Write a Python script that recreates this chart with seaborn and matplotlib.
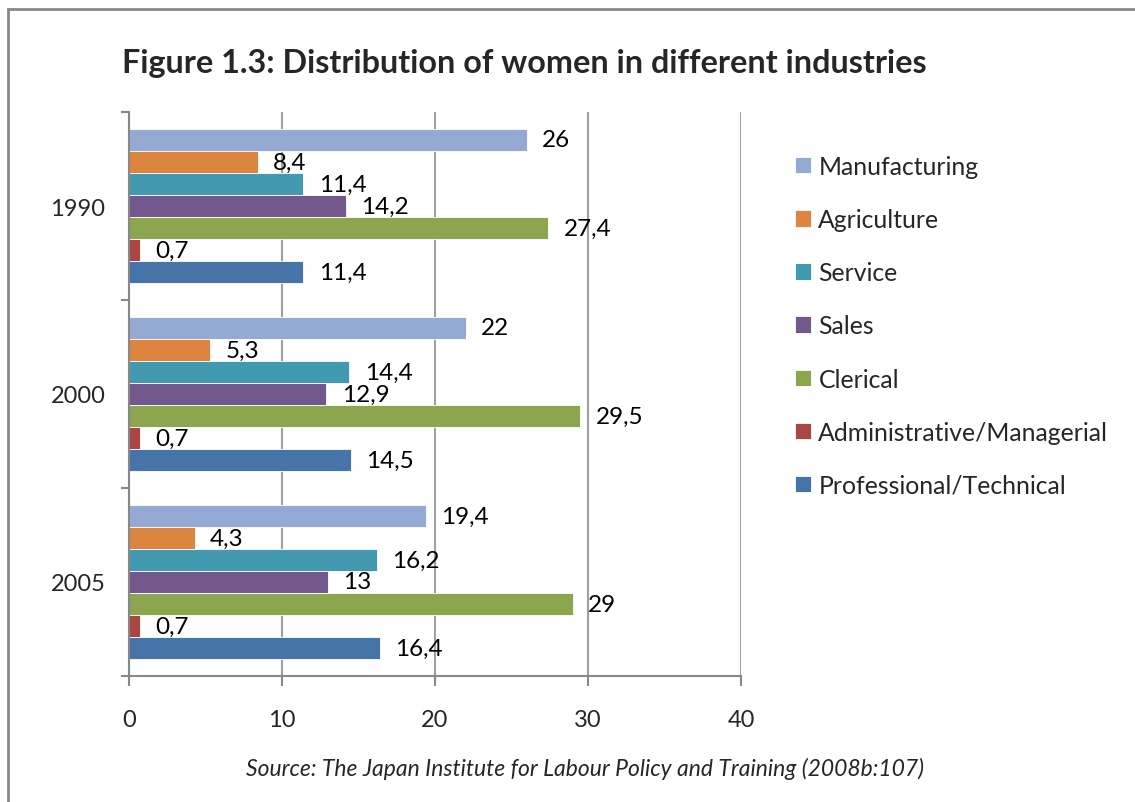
import matplotlib
matplotlib.use("Agg")
import matplotlib.pyplot as plt
import matplotlib.patches as mpatches
import seaborn as sns
import pandas as pd

years = ["1990", "2000", "2005"]
industries = ["Manufacturing", "Agriculture", "Service", "Sales", "Clerical",
              "Administrative/Managerial", "Professional/Technical"]
manufacturing = [26, 22, 19.4]
agriculture = [8.4, 5.3, 4.3]
service = [11.4, 14.4, 16.2]
sales = [14.2, 12.9, 13]
clerical = [27.4, 29.5, 29]
administrative = [0.7, 0.7, 0.7]
professional = [11.4, 14.5, 16.4]
colors = ["#95AAD3", "#DD853F", "#4399AF", "#73588E", "#8BA64F", "#AA4644", "#4673A8"]

series = [manufacturing, agriculture, service, sales, clerical, administrative, professional]
rows = []
for ind, vals in zip(industries, series):
    for y, v in zip(years, vals):
        rows.append({"Year": y, "Industry": ind, "Value": v})
df = pd.DataFrame(rows)

sns.set_style("white")
FONT = ["Lato", "DejaVu Sans"]
plt.rcParams["font.family"] = FONT

fig = plt.figure(figsize=(11.35, 8.03), dpi=100)
ax = fig.add_axes([129/1135, 1 - 677/803, 612/1135, 564/803])

sns.barplot(data=df, y="Year", x="Value", hue="Industry", order=years,
            hue_order=industries, palette=colors, orient="h", width=0.82,
            errorbar=None, saturation=1, ax=ax, edgecolor="white", linewidth=0.6)

def fmt(v):
    s = f"{v:g}"
    return s.replace(".", ",")

for cont in ax.containers:
    ax.bar_label(cont, labels=[fmt(b.get_width()) for b in cont], padding=11,
                 fontsize=17.5, color="black")

ax.set_xlim(0, 40)
ax.set_ylim(2.5, -0.5)
ax.set_xticks([0, 10, 20, 30, 40])
ax.set_xticklabels(["0", "10", "20", "30", "40"])
ax.set_yticks([0, 1, 2])
ax.set_yticklabels(years)
ax.set_yticks([-0.5, 0.5, 1.5, 2.5], minor=True)
ax.tick_params(axis="y", which="major", length=0, pad=17, labelsize=17)
ax.tick_params(axis="y", which="minor", length=6, width=1.5, color="#888888", direction="out", left=True)
ax.tick_params(axis="x", which="major", length=7, width=1.5, color="#888888", direction="out",
               bottom=True, pad=17, labelsize=17)
ax.set_xlabel("")
ax.set_ylabel("")
ax.xaxis.grid(True, color="#A0A0A0", linewidth=1.5)
ax.yaxis.grid(False)
ax.set_axisbelow(True)
for side in ["top", "right"]:
    ax.spines[side].set_visible(False)
for side in ["left", "bottom"]:
    ax.spines[side].set_color("#888888")
    ax.spines[side].set_linewidth(1.5)

handles, labels = ax.get_legend_handles_labels()
ax.legend(handles, labels, loc="upper left", bbox_to_anchor=(785/1135, 1 - 146/803),
          bbox_transform=fig.transFigure, frameon=False, fontsize=17.8,
          handlelength=0.65, handleheight=0.65, handletextpad=0.3, labelspacing=1.22,
          borderaxespad=0)

fig.text(122/1135, 1 - 63/803, "Figure 1.3: Distribution of women in different industries",
         ha="left", va="center", fontsize=23.3, fontweight="bold")
fig.text(585/1135, 1 - 769/803,
         "Source: The Japan Institute for Labour Policy and Training (2008b:107)",
         ha="center", va="center", fontsize=16.5, style="italic")

border = mpatches.Rectangle((8/1135, -0.1), 1.2, 1 - 10/803 + 0.1, transform=fig.transFigure,
                            fill=False, edgecolor="#888888", linewidth=2, clip_on=False)
fig.patches.append(border)

fig.savefig("out.png", dpi=100)
